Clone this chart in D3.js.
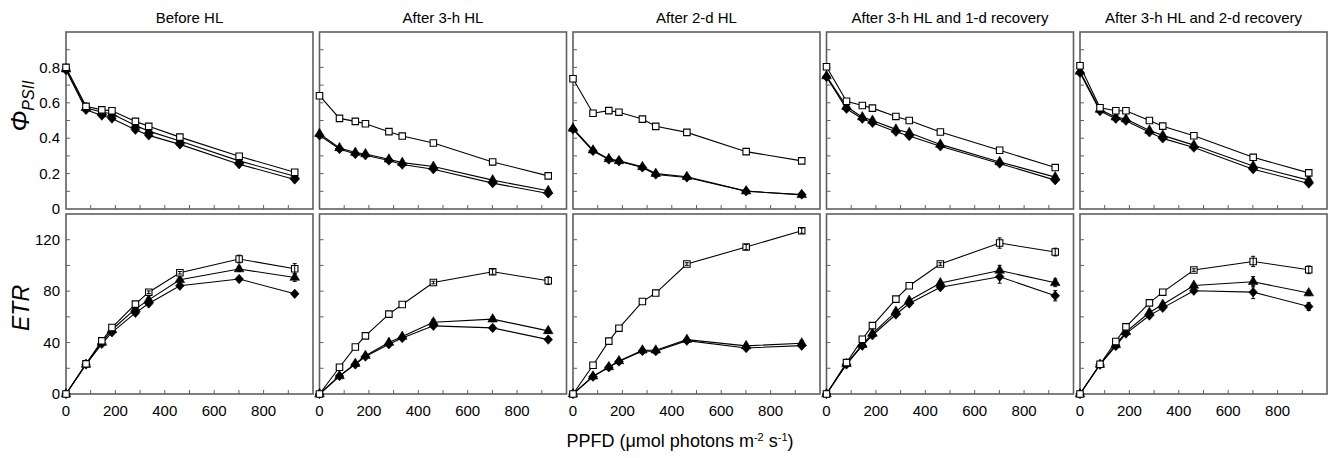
<!DOCTYPE html>
<html>
<head>
<meta charset="utf-8">
<script src="https://cdn.jsdelivr.net/npm/d3@7"></script>
<style>
  body { margin: 0; background: #fff; }
  text { font-family: "Liberation Sans", Arial, sans-serif; fill: #000; }
</style>
</head>
<body>
<svg id="chart" width="1329" height="458"></svg>
<script>
// PPFD steps of the light curve
const ppfd = [0, 81, 145, 186, 281, 335, 461, 701, 926];
const panelTitles = ['Before HL', 'After 3-h HL', 'After 2-d HL',
    'After 3-h HL and 1-d recovery', 'After 3-h HL and 2-d recovery'];
const xTicks = [0, 200, 400, 600, 800];
const phiTicks = [0, 0.2, 0.4, 0.6, 0.8];
const etrTicks = [0, 40, 80, 120];

// Phi PSII, one row per panel
const phiSquare = [
    [0.80, 0.58, 0.56, 0.555, 0.495, 0.467, 0.406, 0.298, 0.208],
    [0.64, 0.512, 0.495, 0.482, 0.437, 0.412, 0.373, 0.266, 0.187],
    [0.736, 0.541, 0.556, 0.547, 0.508, 0.467, 0.433, 0.324, 0.272],
    [0.804, 0.609, 0.585, 0.57, 0.523, 0.50, 0.435, 0.332, 0.234],
    [0.809, 0.572, 0.555, 0.555, 0.50, 0.468, 0.414, 0.292, 0.204]
];
const phiTriangle = [
    [0.79, 0.572, 0.547, 0.538, 0.472, 0.44, 0.384, 0.272, 0.185],
    [0.425, 0.345, 0.319, 0.311, 0.281, 0.262, 0.24, 0.163, 0.103],
    [0.455, 0.332, 0.283, 0.272, 0.238, 0.20, 0.182, 0.101, 0.08],
    [0.751, 0.579, 0.519, 0.50, 0.45, 0.431, 0.365, 0.266, 0.18],
    [0.777, 0.562, 0.519, 0.508, 0.444, 0.416, 0.361, 0.243, 0.163]
];
const phiDiamond = [
    [0.785, 0.56, 0.528, 0.511, 0.448, 0.416, 0.365, 0.253, 0.167],
    [0.416, 0.339, 0.311, 0.304, 0.274, 0.251, 0.225, 0.146, 0.088],
    [0.45, 0.328, 0.28, 0.27, 0.235, 0.195, 0.178, 0.10, 0.082],
    [0.746, 0.566, 0.51, 0.487, 0.437, 0.412, 0.354, 0.257, 0.163],
    [0.77, 0.553, 0.51, 0.499, 0.433, 0.399, 0.347, 0.225, 0.144]
];

// ETR, one row per panel
const etrSquare = [
    [0, 23.4, 41.3, 51.7, 69.9, 79.2, 94.3, 105, 97.4],
    [0, 20.8, 36.6, 45.2, 62.1, 69.6, 86.7, 95.1, 88.1],
    [0, 22.4, 41.1, 51.2, 71.9, 78.5, 101.1, 114.3, 127],
    [0, 24.4, 42.6, 53.2, 73.8, 84.2, 101.1, 117.4, 110.4],
    [0, 23.1, 40.8, 52.2, 70.9, 79.2, 96.4, 103.1, 96.6]
];
const etrTriangle = [
    [0, 23, 40, 50, 66.2, 73.2, 88.8, 97.2, 90.6],
    [0, 14, 23.6, 29.8, 40, 44.7, 55.8, 58.2, 49.1],
    [0, 13.8, 21, 25.7, 34, 34, 42.3, 37.4, 39.5],
    [0, 23.5, 38.4, 47, 64.1, 72.7, 86.3, 96.1, 86.5],
    [0, 23, 38.2, 48.3, 63.4, 69.6, 84.4, 87.3, 78.5]
];
const etrDiamond = [
    [0, 23, 39, 48, 63.1, 70.4, 84.2, 89.4, 77.9],
    [0, 14, 23, 29.1, 38.7, 43.6, 53, 51.4, 42.3],
    [0, 13.5, 20.8, 25.3, 33.5, 33.3, 41.5, 35.8, 37.6],
    [0, 23, 37.6, 45.7, 61.8, 70.4, 83.1, 91.2, 76.4],
    [0, 22.8, 37.4, 47, 61, 67, 80.3, 79.2, 68]
];
// ETR error bars (only the visible ones are non-zero)
const etrSquareErr = [
    [0, 0, 0, 0, 0, 1, 1, 3, 4],
    [0, 0, 0, 0, 0, 0, 1, 2, 3],
    [0, 0, 0, 0, 0, 0, 1, 2, 2],
    [0, 0, 0, 0, 0, 0, 1, 4, 3],
    [0, 0, 0, 0, 0, 0, 1, 4, 3]
];
const etrTriangleErr = [
    [0, 0, 0, 0, 1, 1, 1, 2, 3],
    [0, 0, 0, 0, 1, 1, 2, 2, 2],
    [0, 0, 0, 0, 1, 1, 1, 2, 2],
    [0, 0, 0, 0, 1, 1, 1, 4, 3],
    [0, 0, 0, 0, 1, 1, 1, 4, 2]
];
const etrDiamondErr = [
    [0, 0, 0, 0, 1, 1, 1, 1, 1],
    [0, 0, 0, 0, 1, 1, 1, 2, 1],
    [0, 0, 0, 0, 1, 1, 1, 1, 1],
    [0, 0, 0, 0, 1, 1, 1, 5, 4],
    [0, 0, 0, 0, 1, 1, 1, 5, 3]
];

const svg = d3.select('#chart');
const frameColor = '#5f5f5f';

const panelLeft = 66, panelStep = 253.5, panelWidth = 247;
const topY0 = 32, topY1 = 209;
const botY0 = 214, botY1 = 394;

const x = d3.scaleLinear().domain([0, 1000]).range([0, panelWidth]);
const yPhi = d3.scaleLinear().domain([0, 1]).range([topY1, topY0]);
const yEtr = d3.scaleLinear().domain([0, 140]).range([botY1, botY0]);

// a squat diamond, closer to the printed marker than d3's tall one
const squatDiamond = {
    draw(context, size) {
        const r = Math.sqrt(size / 2);
        const w = r * 1.05, h = r * 1.15;
        context.moveTo(0, -h);
        context.lineTo(w, 0);
        context.lineTo(0, h);
        context.lineTo(-w, 0);
        context.closePath();
    }
};

const symbols = {
    square: d3.symbol().type(d3.symbolSquare).size(42),
    triangle: d3.symbol().type(d3.symbolTriangle).size(40),
    diamond: d3.symbol().type(squatDiamond).size(34)
};

function drawPanel(g, y, yMinor, series, showYLabels, yLabels, yFormat, showXLabels) {
    const [y1, y0] = y.range();

    g.append('rect')
        .attr('x', 0).attr('y', y0)
        .attr('width', panelWidth).attr('height', y1 - y0)
        .attr('fill', 'none')
        .attr('stroke', frameColor)
        .attr('stroke-width', 1.6);

    // inward ticks on the bottom edge
    g.append('g')
        .selectAll('line')
        .data(d3.range(100, 1000, 100))
        .enter().append('line')
        .attr('x1', d => x(d)).attr('x2', d => x(d))
        .attr('y1', y1).attr('y2', y1 - 4)
        .attr('stroke', frameColor);

    // inward ticks on the left edge
    g.append('g')
        .selectAll('line')
        .data(yMinor)
        .enter().append('line')
        .attr('x1', 0).attr('x2', 4)
        .attr('y1', d => y(d)).attr('y2', d => y(d))
        .attr('stroke', frameColor);

    if (showYLabels) {
        g.append('g')
            .selectAll('text')
            .data(yLabels)
            .enter().append('text')
            .attr('x', -6)
            .attr('y', d => y(d))
            .attr('dy', '0.35em')
            .attr('text-anchor', 'end')
            .style('font-size', '15px')
            .text(yFormat);
    }

    if (showXLabels) {
        g.append('g')
            .selectAll('text')
            .data(xTicks)
            .enter().append('text')
            .attr('x', d => x(d))
            .attr('y', y1 + 17)
            .attr('dy', '0.35em')
            .attr('text-anchor', 'middle')
            .style('font-size', '15px')
            .text(d => d);
    }

    const line = d3.line().x(d => x(d[0])).y(d => y(d[1]));

    series.forEach(s => {
        const pts = ppfd.map((p, i) => [p, s.values[i], s.err ? s.err[i] : 0]);
        g.append('path')
            .datum(pts)
            .attr('d', line)
            .attr('fill', 'none')
            .attr('stroke', '#000')
            .attr('stroke-width', 1.1);
    });

    series.forEach(s => {
        const pts = ppfd.map((p, i) => [p, s.values[i], s.err ? s.err[i] : 0]);
        g.append('g')
            .selectAll('path')
            .data(pts)
            .enter().append('path')
            .attr('d', symbols[s.shape])
            .attr('transform', d => `translate(${x(d[0])},${y(d[1])})`)
            .attr('fill', s.shape === 'square' ? '#fff' : '#000')
            .attr('stroke', '#000')
            .attr('stroke-width', s.shape === 'square' ? 1.1 : 0.6);

        const withErr = pts.filter(d => d[2] > 0);
        const eb = g.append('g').attr('stroke', '#000').attr('stroke-width', 1);
        eb.selectAll('.v').data(withErr).enter().append('line')
            .attr('x1', d => x(d[0])).attr('x2', d => x(d[0]))
            .attr('y1', d => y(d[1] - d[2])).attr('y2', d => y(d[1] + d[2]));
        eb.selectAll('.t').data(withErr).enter().append('line')
            .attr('x1', d => x(d[0]) - 2).attr('x2', d => x(d[0]) + 2)
            .attr('y1', d => y(d[1] + d[2])).attr('y2', d => y(d[1] + d[2]));
        eb.selectAll('.b').data(withErr).enter().append('line')
            .attr('x1', d => x(d[0]) - 2).attr('x2', d => x(d[0]) + 2)
            .attr('y1', d => y(d[1] - d[2])).attr('y2', d => y(d[1] - d[2]));
    });
}

panelTitles.forEach((title, p) => {
    const g = svg.append('g')
        .attr('transform', `translate(${panelLeft + p * panelStep},0)`);

    g.append('text')
        .attr('x', panelWidth / 2)
        .attr('y', 18)
        .attr('dy', '0.35em')
        .attr('text-anchor', 'middle')
        .style('font-size', '15px')
        .text(title);

    drawPanel(g, yPhi, d3.range(0.1, 1.0, 0.1),
        [
            { shape: 'diamond', values: phiDiamond[p] },
            { shape: 'triangle', values: phiTriangle[p] },
            { shape: 'square', values: phiSquare[p] }
        ],
        p === 0, phiTicks, d => d === 0 ? '0' : d3.format('.1f')(d), false);

    drawPanel(g, yEtr, d3.range(20, 140, 20),
        [
            { shape: 'diamond', values: etrDiamond[p], err: etrDiamondErr[p] },
            { shape: 'triangle', values: etrTriangle[p], err: etrTriangleErr[p] },
            { shape: 'square', values: etrSquare[p], err: etrSquareErr[p] }
        ],
        p === 0, etrTicks, d => d, true);
});

// axis titles
const phiLabel = svg.append('text')
    .attr('transform', 'translate(29,106) rotate(-90)')
    .attr('text-anchor', 'middle')
    .style('font-size', '25px')
    .style('font-style', 'italic');
phiLabel.append('tspan').text('Φ');
phiLabel.append('tspan')
    .attr('dy', 5)
    .style('font-size', '16px')
    .text('PSII');

svg.append('text')
    .attr('transform', 'translate(29,308) rotate(-90)')
    .attr('text-anchor', 'middle')
    .style('font-size', '23px')
    .style('font-style', 'italic')
    .text('ETR');

const xLabel = svg.append('text')
    .attr('x', 680)
    .attr('y', 447)
    .attr('text-anchor', 'middle')
    .style('font-size', '18px');
xLabel.append('tspan').text('PPFD (μmol photons m');
xLabel.append('tspan').attr('dy', -6).style('font-size', '11px').text('-2');
xLabel.append('tspan').attr('dy', 6).text(' s');
xLabel.append('tspan').attr('dy', -6).style('font-size', '11px').text('-1');
xLabel.append('tspan').attr('dy', 6).text(')');
</script>
</body>
</html>
